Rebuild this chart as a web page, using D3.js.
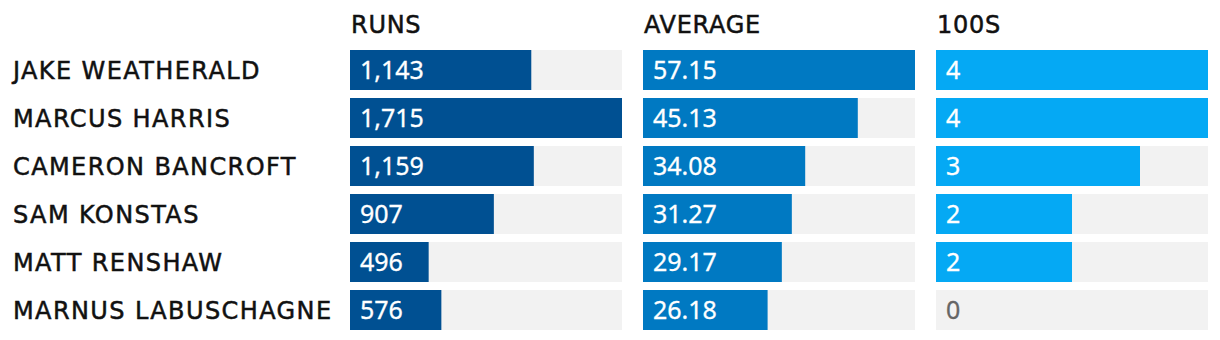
<!DOCTYPE html>
<html lang="en">
  <head>
    <meta charset="utf-8">
    <title>Batting stats</title>
    <script src="https://cdn.jsdelivr.net/npm/d3@7"></script>
    <style>
      body { margin: 0; background: #fff; }
      text { font-family: "Noto Sans", Roboto, sans-serif; }
      .name, .head { font-family: "DejaVu Sans", sans-serif; font-size: 24px; fill: #111; stroke: #111; stroke-width: 0.5px; }
      .name { letter-spacing: 1.4px; }
      .head { letter-spacing: 0.7px; }
      .val { font-size: 25px; font-weight: 400; stroke-width: 0.3px; }
    </style>
  </head>
  <body>
    <script>
      var players = ["JAKE WEATHERALD", "MARCUS HARRIS", "CAMERON BANCROFT", "SAM KONSTAS", "MATT RENSHAW", "MARNUS LABUSCHAGNE"];
      var runs = [1143, 1715, 1159, 907, 496, 576];
      var average = [57.15, 45.13, 34.08, 31.27, 29.17, 26.18];
      var hundreds = [4, 4, 3, 2, 2, 0];
      var headers = ["RUNS", "AVERAGE", "100S"];
      var colors = ["#005092", "#0079c2", "#05a9f4"];

      var w = 1220, h = 340;
      var panelW = 272, gap = 21, left = 350;

      var columns = [
        { title: headers[0], values: runs, fmt: d3.format(",") },
        { title: headers[1], values: average, fmt: d3.format(".2f") },
        { title: headers[2], values: hundreds, fmt: d3.format("d") }
      ];

      var svg = d3.select("body").append("svg")
                  .attr("width", w)
                  .attr("height", h);

      var y = d3.scaleBand()
                .domain(players)
                .range([50, 330])
                .paddingInner(8 / 48)
                .paddingOuter(0);

      // player names
      svg.selectAll("text.name")
         .data(players)
         .enter()
         .append("text")
         .attr("class", "name")
         .attr("x", 13)
         .attr("y", function(d) { return y(d) + y.bandwidth() / 2; })
         .attr("dy", "0.36em")
         .text(function(d) { return d; });

      columns.forEach(function(col, ci) {
        var x0 = left + ci * (panelW + gap);
        var x = d3.scaleLinear()
                  .domain([0, d3.max(col.values)])
                  .range([0, panelW]);

        var g = svg.append("g")
                   .attr("transform", "translate(" + x0 + ",0)");

        g.append("text")
         .attr("class", "head")
         .attr("x", 1)
         .attr("y", 33)
         .text(col.title);

        var rows = g.selectAll("g.row")
                    .data(players)
                    .enter()
                    .append("g")
                    .attr("class", "row")
                    .attr("transform", function(d) { return "translate(0," + y(d) + ")"; });

        rows.append("rect")
            .attr("width", panelW)
            .attr("height", y.bandwidth())
            .attr("fill", "#f2f2f2");

        rows.append("rect")
            .attr("width", function(d, i) { return x(col.values[i]); })
            .attr("height", y.bandwidth())
            .attr("fill", colors[ci]);

        rows.append("text")
            .attr("class", "val")
            .attr("x", 10)
            .attr("y", y.bandwidth() / 2)
            .attr("dy", "0.36em")
            .attr("fill", function(d, i) { return col.values[i] === 0 ? "#666" : "#fff"; })
            .attr("stroke", function(d, i) { return col.values[i] === 0 ? "#666" : "#fff"; })
            .text(function(d, i) { return col.fmt(col.values[i]); });
      });
    </script>
  </body>
</html>
